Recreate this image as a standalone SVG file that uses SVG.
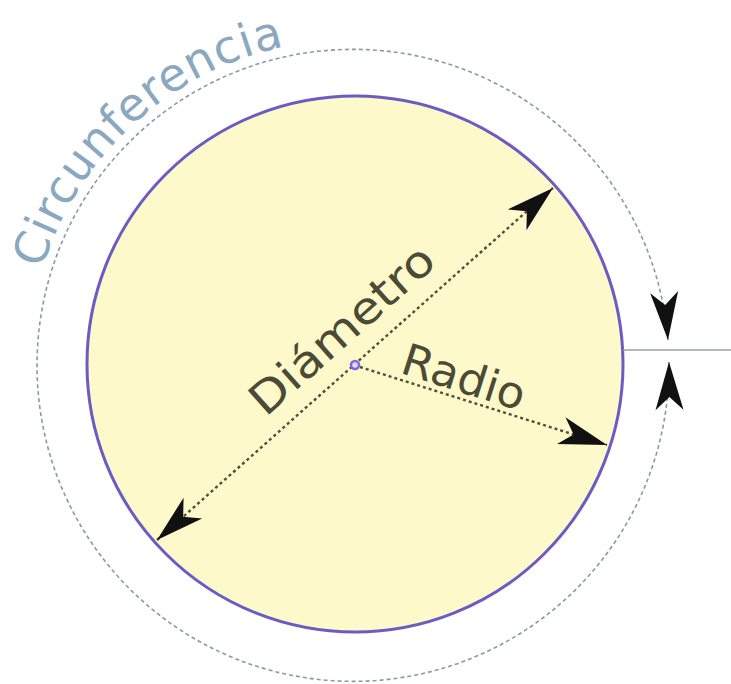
<svg xmlns="http://www.w3.org/2000/svg" width="731" height="684" viewBox="0 0 731 684">
<style>
.lbl{font-family:"DejaVu Sans","Liberation Sans",sans-serif;fill:#4a4a36;font-size:44px}
.circ{font-family:"DejaVu Sans","Liberation Sans",sans-serif;fill:#8aa8bf;font-size:46px}
.dim{fill:none;stroke:#4f4f3a;stroke-width:2.4;stroke-dasharray:3 3}
</style>
<defs>
<marker id="ah" markerUnits="userSpaceOnUse" markerWidth="50" markerHeight="30" refX="48" refY="15" orient="auto-start-reverse" overflow="visible">
<path d="M0,1 L48,15 L0,29 L13,15 Z" fill="#111"/>
</marker>
<path id="tp" d="M42.2,269 A325,325 0 0 1 307.8,42.2"/>
</defs>
<rect width="731" height="684" fill="#fff"/>
<g id="circumference">
<path d="M669,362 A316,316 0 1 1 668,340" fill="none" stroke="#8c98aa" stroke-width="1.6" stroke-dasharray="4 3" marker-start="url(#ah)" marker-end="url(#ah)"/>
<text class="circ"><textPath href="#tp" textLength="345" lengthAdjust="spacing">Circunferencia</textPath></text>
</g>
<g id="circle">
<circle cx="355" cy="364" r="268" fill="#fef9ca" stroke="#6b5cc4" stroke-width="3"/>
</g>
<g id="connectors">
<line x1="623" y1="350" x2="731" y2="350" stroke="#9aa0a8" stroke-width="1.5"/>
<line class="dim" x1="157" y1="540" x2="553" y2="188" marker-start="url(#ah)" marker-end="url(#ah)"/>
<line class="dim" x1="360" y1="367" x2="607" y2="445" stroke-dasharray="5 3" marker-end="url(#ah)"/>
</g>
<g id="center">
<circle cx="355" cy="365" r="4" fill="#e4dcff" stroke="#7b68e0" stroke-width="2.5"/>
</g>
<g id="label-diametro" transform="translate(355,365) rotate(-41.6)">
<text class="lbl" x="-102" y="-20" textLength="231" lengthAdjust="spacingAndGlyphs">Diámetro</text>
</g>
<g id="label-radio" transform="translate(355,365) rotate(17.6)">
<text class="lbl" x="44" y="-6" textLength="127" lengthAdjust="spacingAndGlyphs">Radio</text>
</g>
</svg>
